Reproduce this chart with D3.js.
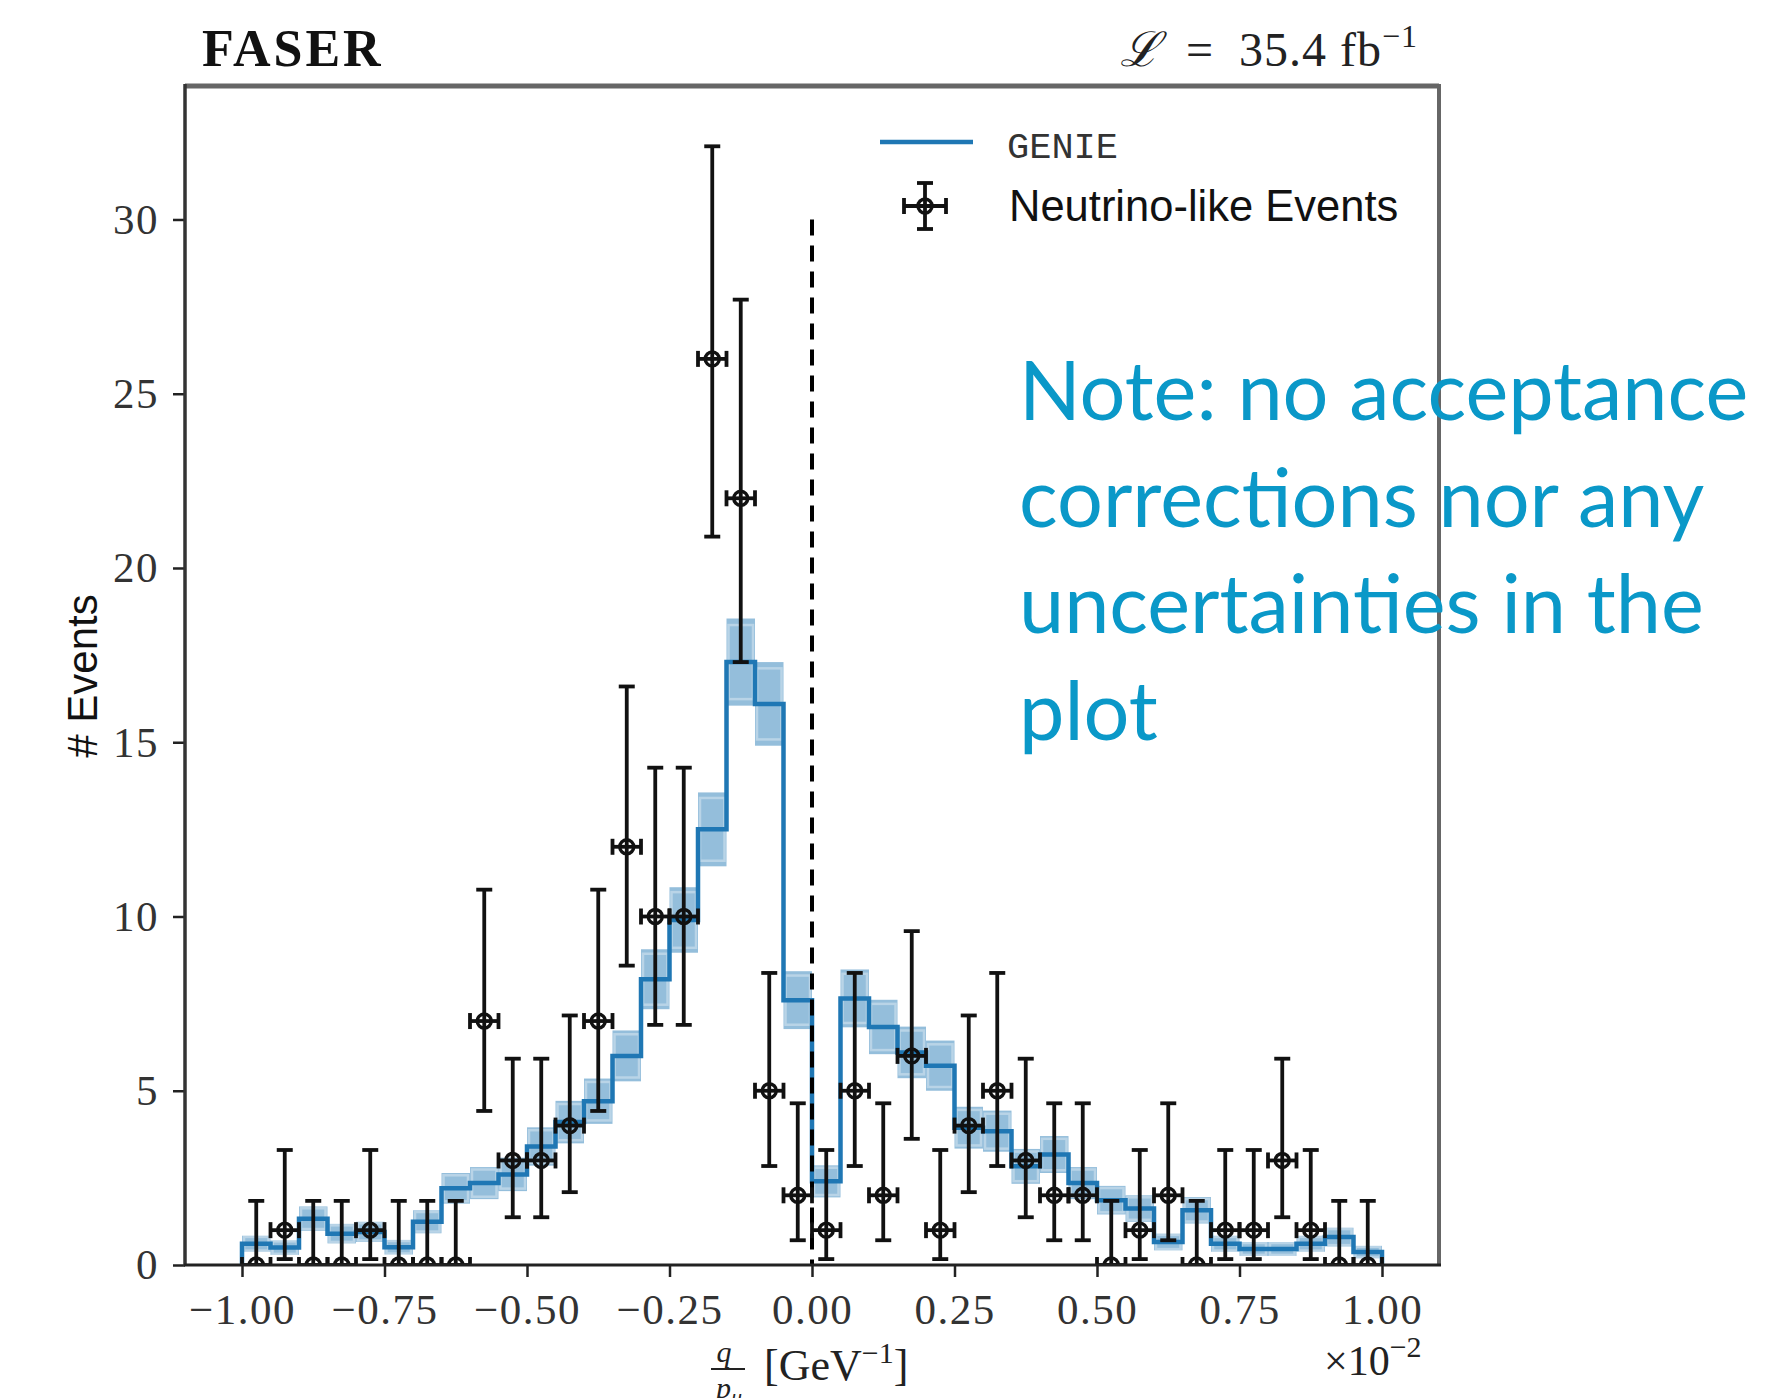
<!DOCTYPE html>
<html>
<head>
<meta charset="utf-8">
<script src="https://cdn.jsdelivr.net/npm/d3@7"></script>
<style>
  body { margin: 0; background: #fff; }
  svg { display: block; }
</style>
</head>
<body>
<div id="chart"></div>
<script>
// bin centres of q/p (x 1e-2 GeV^-1), 40 bins of width 0.05
var binCenters = [-0.975, -0.925, -0.875, -0.825, -0.775, -0.725, -0.675, -0.625, -0.575, -0.525,
                  -0.475, -0.425, -0.375, -0.325, -0.275, -0.225, -0.175, -0.125, -0.075, -0.025,
                   0.025,  0.075,  0.125,  0.175,  0.225,  0.275,  0.325,  0.375,  0.425,  0.475,
                   0.525,  0.575,  0.625,  0.675,  0.725,  0.775,  0.825,  0.875,  0.925,  0.975];

// neutrino-like events
var counts = [0, 1, 0, 0, 1, 0, 0, 0, 7, 3,
              3, 4, 7, 12, 10, 10, 26, 22, 5, 2,
              1, 5, 2, 6, 1, 4, 5, 3, 2, 2,
              0, 1, 2, 0, 1, 1, 3, 1, 0, 0];
var errLow = [0, 0.83, 0, 0, 0.83, 0, 0, 0, 2.58, 1.63,
              1.63, 1.91, 2.58, 3.41, 3.11, 3.11, 5.1, 4.7, 2.16, 1.29,
              0.83, 2.16, 1.29, 2.38, 0.83, 1.91, 2.16, 1.63, 1.29, 1.29,
              0, 0.83, 1.29, 0, 0.83, 0.83, 1.63, 0.83, 0, 0];
var errHigh = [1.84, 2.3, 1.84, 1.84, 2.3, 1.84, 1.84, 1.84, 3.77, 2.92,
               2.92, 3.16, 3.77, 4.6, 4.27, 4.27, 6.1, 5.7, 3.38, 2.64,
               2.3, 3.38, 2.64, 3.58, 2.3, 3.16, 3.38, 2.92, 2.64, 2.64,
               1.84, 2.3, 2.64, 1.84, 2.3, 2.3, 2.92, 2.3, 1.84, 1.84];

// GENIE prediction and its band
var genie = [0.61, 0.5, 1.33, 0.9, 0.95, 0.51, 1.24, 2.2, 2.35, 2.6,
             3.4, 4.1, 4.7, 6.0, 8.2, 9.9, 12.5, 17.3, 16.1, 7.6,
             2.4, 7.65, 6.83, 6.1, 5.72, 3.94, 3.84, 2.83, 3.17, 2.35,
             1.86, 1.62, 0.66, 1.57, 0.61, 0.46, 0.46, 0.61, 0.8, 0.37];
var genieErr = [0.23, 0.21, 0.35, 0.28, 0.29, 0.21, 0.33, 0.44, 0.46, 0.48,
                0.55, 0.61, 0.65, 0.73, 0.86, 0.94, 1.06, 1.25, 1.2, 0.83,
                0.46, 0.83, 0.78, 0.74, 0.72, 0.6, 0.59, 0.5, 0.53, 0.46,
                0.41, 0.38, 0.24, 0.38, 0.23, 0.2, 0.2, 0.23, 0.27, 0.18];

var xTicks = [-1, -0.75, -0.5, -0.25, 0, 0.25, 0.5, 0.75, 1];
var yTicks = [0, 5, 10, 15, 20, 25, 30];
var halfBin = 0.025;

var noteLines = ["Note: no acceptance", "corrections nor any", "uncertainties in the", "plot"];

var width = 1784, height = 1398;
var blue = "#1f77b4";
var serif = "'Liberation Serif', 'DejaVu Serif', serif";
var sans = "'Liberation Sans', Arial, sans-serif";

var x = d3.scaleLinear().domain([-1.1, 1.1]).range([185, 1439]);
var y = d3.scaleLinear().domain([0, 33.83]).range([1265, 86]);

var svg = d3.select("#chart").append("svg")
    .attr("width", width)
    .attr("height", height)
    .style("background", "#fff");

svg.append("defs").append("clipPath").attr("id", "plotclip")
    .append("rect")
    .attr("x", x.range()[0]).attr("y", y.range()[1])
    .attr("width", x.range()[1] - x.range()[0])
    .attr("height", y.range()[0] - y.range()[1]);

// axes
var xAxis = svg.append("g")
    .attr("transform", "translate(0," + y(0) + ")")
    .call(d3.axisBottom(x).tickValues(xTicks).tickSize(12).tickPadding(16)
        .tickFormat(function(d) { return d3.format(".2f")(d).replace("-", "\u2212"); }));
var yAxis = svg.append("g")
    .attr("transform", "translate(" + x.range()[0] + ",0)")
    .call(d3.axisLeft(y).tickValues(yTicks).tickSize(12).tickPadding(14));

[xAxis, yAxis].forEach(function(a) {
    a.select(".domain").remove();
    a.selectAll(".tick line").attr("stroke", "#222").attr("stroke-width", 2.5);
    a.selectAll(".tick text").attr("fill", "#333")
        .style("font-family", serif).style("font-size", "43px")
        .style("letter-spacing", "1.5px");
});

var plot = svg.append("g").attr("clip-path", "url(#plotclip)");

// GENIE band
var band = plot.append("g");
genie.forEach(function(v, i) {
    var c = binCenters[i], e = genieErr[i];
    band.append("rect")
        .attr("x", x(c - halfBin)).attr("width", x(c + halfBin) - x(c - halfBin))
        .attr("y", y(v + e)).attr("height", y(v - e) - y(v + e))
        .attr("fill", blue).attr("fill-opacity", 0.48);
    band.append("rect")
        .attr("x", x(c - halfBin) + 2).attr("width", x(c + halfBin) - x(c - halfBin) - 4)
        .attr("y", y(v + e * 0.85)).attr("height", y(v - e * 0.85) - y(v + e * 0.85))
        .attr("fill", "none").attr("stroke", "#fff").attr("stroke-opacity", 0.35)
        .attr("stroke-width", 2.5);
});

// GENIE step histogram
var stepPts = [[binCenters[0] - halfBin, 0]];
genie.forEach(function(v, i) {
    stepPts.push([binCenters[i] - halfBin, v]);
    stepPts.push([binCenters[i] + halfBin, v]);
});
stepPts.push([binCenters[binCenters.length - 1] + halfBin, 0]);

plot.append("path")
    .attr("d", d3.line().x(function(d) { return x(d[0]); }).y(function(d) { return y(d[1]); })(stepPts))
    .attr("fill", "none")
    .attr("stroke", blue)
    .attr("stroke-width", 4.5);

// q/p = 0 line
plot.append("line")
    .attr("x1", x(0)).attr("x2", x(0))
    .attr("y1", y(30)).attr("y2", y(0))
    .attr("stroke", "#000").attr("stroke-width", 4)
    .attr("stroke-dasharray", "16,10");

// data points
function drawPoint(g, cx, cy, top, bottom, left, right) {
    var cap = 8;
    g.append("line").attr("x1", cx).attr("x2", cx).attr("y1", top).attr("y2", bottom);
    g.append("line").attr("x1", cx - cap).attr("x2", cx + cap).attr("y1", top).attr("y2", top);
    g.append("line").attr("x1", cx - cap).attr("x2", cx + cap).attr("y1", bottom).attr("y2", bottom);
    g.append("line").attr("x1", left).attr("x2", right).attr("y1", cy).attr("y2", cy);
    g.append("line").attr("x1", left).attr("x2", left).attr("y1", cy - cap).attr("y2", cy + cap);
    g.append("line").attr("x1", right).attr("x2", right).attr("y1", cy - cap).attr("y2", cy + cap);
    g.append("circle").attr("cx", cx).attr("cy", cy).attr("r", 7)
        .attr("fill", "none").attr("stroke-width", 3.4);
}

var pts = plot.append("g").attr("stroke", "#111").attr("stroke-width", 3.8);
counts.forEach(function(n, i) {
    var c = binCenters[i];
    drawPoint(pts, x(c), y(n), y(n + errHigh[i]), y(n - errLow[i]),
        x(c - halfBin), x(c + halfBin));
});

// frame
var frame = svg.append("g").attr("fill", "none");
frame.append("line").attr("x1", 185).attr("x2", 1439).attr("y1", 86).attr("y2", 86)
    .attr("stroke", "#666").attr("stroke-width", 5);
frame.append("line").attr("x1", 1439).attr("x2", 1439).attr("y1", 84).attr("y2", 1265)
    .attr("stroke", "#666").attr("stroke-width", 4);
frame.append("line").attr("x1", 185).attr("x2", 185).attr("y1", 84).attr("y2", 1266)
    .attr("stroke", "#333").attr("stroke-width", 3.5);
frame.append("line").attr("x1", 184).attr("x2", 1441).attr("y1", 1265).attr("y2", 1265)
    .attr("stroke", "#222").attr("stroke-width", 3);

// legend
var legend = svg.append("g");
legend.append("line").attr("x1", 880).attr("x2", 973).attr("y1", 142).attr("y2", 142)
    .attr("stroke", blue).attr("stroke-width", 4.5);
legend.append("text").attr("x", 1007).attr("y", 158)
    .style("font-family", "'Liberation Mono', 'Courier New', monospace")
    .style("font-size", "37px").attr("fill", "#333")
    .text("GENIE");
var legPt = legend.append("g").attr("stroke", "#111").attr("stroke-width", 3.8);
drawPoint(legPt, 925, 206, 183, 229, 904, 946);
legend.append("text").attr("x", 1009).attr("y", 221)
    .style("font-family", sans).style("font-size", "43.5px").attr("fill", "#111")
    .text("Neutrino-like Events");

// titles
svg.append("text").attr("x", 202).attr("y", 66)
    .style("font-family", serif).style("font-weight", "bold")
    .style("font-size", "52px").style("letter-spacing", "3px")
    .attr("fill", "#111")
    .text("FASER");

var lumi = svg.append("text").attr("x", 1418).attr("y", 66)
    .attr("text-anchor", "end")
    .style("font-family", serif).style("font-size", "48px").attr("fill", "#222")
    .style("letter-spacing", "1px");
lumi.append("tspan").style("font-style", "italic").text("\u2112");
lumi.append("tspan").text("\u2002=\u200235.4 fb");
lumi.append("tspan").attr("dy", -19).style("font-size", "32px").text("\u22121");

// axis labels
svg.append("text")
    .attr("transform", "translate(97,676) rotate(-90)")
    .attr("text-anchor", "middle")
    .style("font-family", sans).style("font-size", "42px").attr("fill", "#111")
    .text("# Events");

var xl = svg.append("g").attr("fill", "#222").style("font-family", serif);
xl.append("text").attr("x", 724).attr("y", 1362).attr("text-anchor", "middle")
    .style("font-size", "30px").style("font-style", "italic").text("q");
xl.append("line").attr("x1", 711).attr("x2", 745).attr("y1", 1369).attr("y2", 1369)
    .attr("stroke", "#222").attr("stroke-width", 2);
var pmu = xl.append("text").attr("x", 716).attr("y", 1398)
    .style("font-size", "30px").style("font-style", "italic");
pmu.append("tspan").text("p");
pmu.append("tspan").attr("dy", 6).style("font-size", "22px").text("\u03bc");
var gev = xl.append("text").attr("x", 764).attr("y", 1380).style("font-size", "44px");
gev.append("tspan").text("[GeV");
gev.append("tspan").attr("dy", -17).style("font-size", "30px").text("\u22121");
gev.append("tspan").attr("dy", 17).text("]");

var mult = xl.append("text").attr("x", 1324).attr("y", 1375).style("font-size", "42px");
mult.append("tspan").text("\u00d710");
mult.append("tspan").attr("dy", -18).style("font-size", "30px").text("\u22122");

// note
var note = svg.append("text")
    .style("font-family", "Lato, 'Open Sans', sans-serif")
    .style("font-size", "81px")
    .attr("fill", "#0a98c8");
noteLines.forEach(function(t, i) {
    note.append("tspan").attr("x", 1019).attr("y", 420 + i * 106.7).text(t);
});
</script>
</body>
</html>
